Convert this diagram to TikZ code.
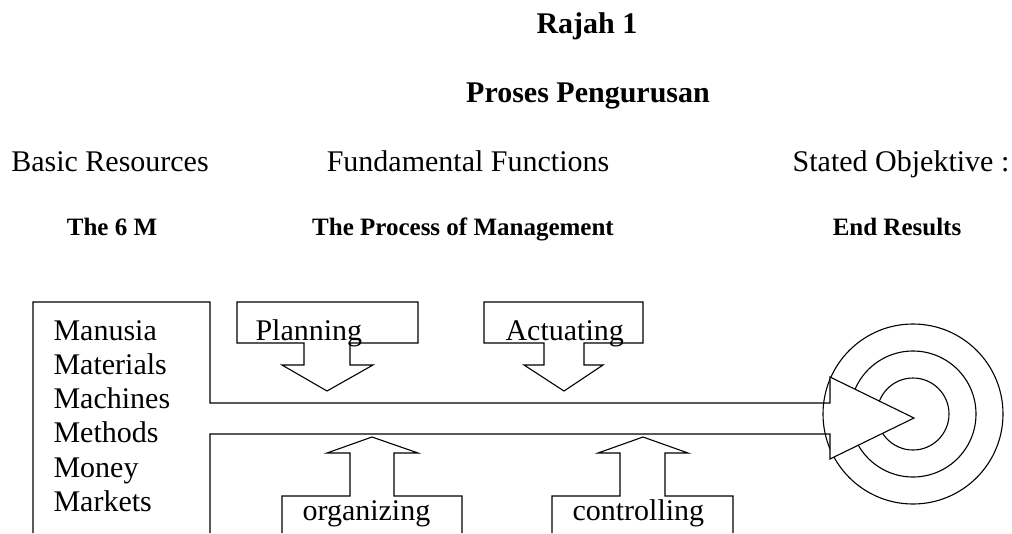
\documentclass[tikz,border=0pt]{standalone}
\usepackage{fontspec}
\setmainfont{Liberation Serif}
\begin{document}
\begin{tikzpicture}[x=1pt,y=-1pt,line width=1.1pt,line join=miter,
    txt/.style={font=\fontsize{30}{34}\selectfont,inner sep=0pt,anchor=base},
    ttl/.style={font=\fontsize{30}{34}\selectfont\bfseries,inner sep=0pt,anchor=base},
    sub/.style={font=\fontsize{25}{30}\selectfont\bfseries,inner sep=0pt,anchor=base}]
  \useasboundingbox (0,0) rectangle (1012,533);
  % titles
  \node[ttl] (rajah) at (587,33) {Rajah 1};
  \node[ttl] (proses) at (588,102) {Proses Pengurusan};
  \node[txt] (basic) at (110,171) {Basic Resources};
  \node[txt] (fund) at (468,171) {Fundamental Functions};
  \node[txt] (stated) at (901,171) {Stated Objektive :};
  \node[sub] (sixm) at (112,235) {The 6 M};
  \node[sub] (procm) at (463,235) {The Process of Management};
  \node[sub] (endres) at (897,235) {End Results};
  % target
  \foreach \r in {90,63,36}
    \draw (913,414) circle[radius=\r];
  % resources box and main arrow
  \fill[white] (830,377) -- (914,418) -- (830,459) -- cycle;
  \draw (33,533) -- (33,302) -- (210,302) -- (210,403) -- (830,403)
    -- (830,377) -- (914,418) -- (830,459) -- (830,434) -- (210,434) -- (210,533);
  \foreach \txt [count=\i] in {Manusia,Materials,Machines,Methods,Money,Markets}
    \node[txt,anchor=base west] (m\i) at (53,{340+34.3*(\i-1)}) {\txt};
  % down arrows
  \draw (237,302) -- (418,302) -- (418,343) -- (350,343) -- (350,365) -- (373,365)
    -- (327,391) -- (282,365) -- (304,365) -- (304,343) -- (237,343) -- cycle;
  \draw (484,302) -- (643,302) -- (643,343) -- (584,343) -- (584,365) -- (603,365)
    -- (564,391) -- (524,365) -- (544,365) -- (544,343) -- (484,343) -- cycle;
  \node[txt,anchor=base west] (plan) at (255,340) {Planning};
  \node[txt,anchor=base west] (act) at (505,340) {Actuating};
  % up arrows
  \draw (282,533) -- (282,496) -- (350,496) -- (350,453) -- (327,453) -- (372,437)
    -- (418,453) -- (394,453) -- (394,496) -- (462,496) -- (462,533);
  \draw (552,533) -- (552,496) -- (620,496) -- (620,453) -- (598,453) -- (643,437)
    -- (688,453) -- (665,453) -- (665,496) -- (733,496) -- (733,533);
  \node[txt,anchor=base west] (org) at (302,520) {organizing};
  \node[txt,anchor=base west] (ctrl) at (572,520) {controlling};
\end{tikzpicture}
\end{document}
